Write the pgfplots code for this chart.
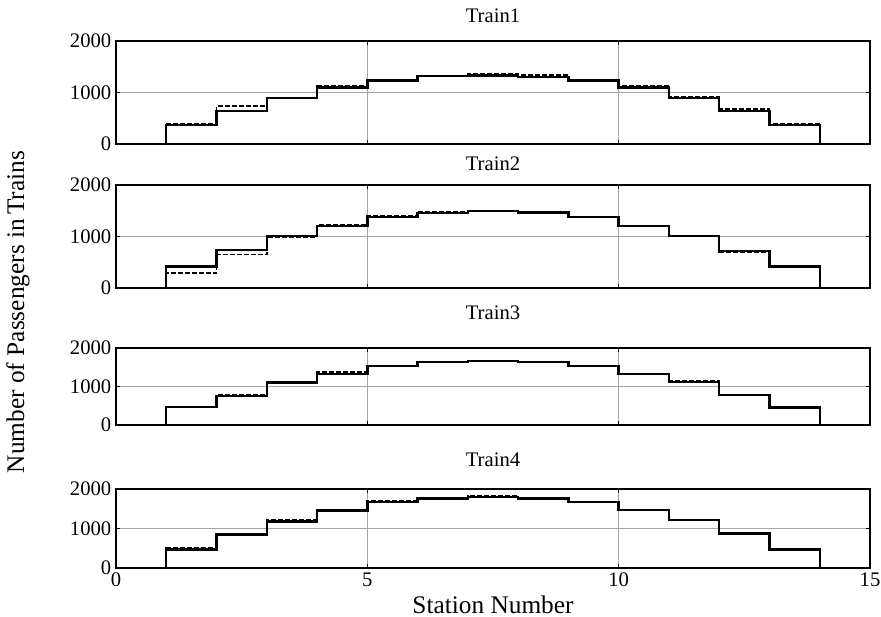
\documentclass[border=0pt]{standalone}
\usepackage{fontspec}
\setmainfont{Liberation Serif}
\usepackage{pgfplots}
\pgfplotsset{compat=1.18}
\begin{document}
\begin{tikzpicture}
\pgfplotsset{
  panel/.style={
    scale only axis, width=565.5pt,
    anchor=south west,
    xmin=0, xmax=15, ymin=0, ymax=2000,
    xtick={0,5,10,15}, ytick={0,1000,2000},
    grid=major, major grid style={line width=0.4pt, color=black!35},
    axis line style={line width=1pt, black},
    tick style={line width=0.8pt, black},
    major tick length=3pt,
    tick align=inside,
    tick label style={font=\fontsize{15.5}{18}\selectfont},
    /pgf/number format/assume math mode=true,
    /pgf/number format/1000 sep={},
    scaled y ticks=false,
    title style={font=\fontsize{15.5}{18}\selectfont, at={(0.5,1)}, anchor=base},
    clip=false,
    const plot,
  },
  sol/.style={black, line width=1.8pt, no marks, const plot},
  das/.style={black, line width=1.4pt, dash pattern=on 3.75pt off 1.5pt, no marks, const plot},
}
\path[use as bounding box] (0,0) rectangle (660.75pt,-462.75pt);
\node[rotate=90, font=\fontsize{19}{22}\selectfont] at (13.5pt,-234pt) {Number of Passengers in\,Trains};

\begin{axis}[panel, at={(87pt,-108pt)}, height=77.25pt, title={Train1}, title style={yshift=8.25pt}, xticklabels={}]
\addplot[das] coordinates {(0,0)(1,380)(2,735)(3,900)(4,1135)(5,1240)(6,1330)(7,1360)(8,1340)(9,1250)(10,1120)(11,915)(12,685)(13,380)(14,0)};
\addplot[sol] coordinates {(0,0)(1,368)(2,639)(3,890)(4,1097)(5,1232)(6,1316)(7,1329)(8,1303)(9,1232)(10,1097)(11,890)(12,639)(13,368)(14,0)};
\end{axis}

\begin{axis}[panel, at={(87pt,-216pt)}, height=77.25pt, title={Train2}, title style={yshift=5.25pt}, xticklabels={}]
\addplot[das] coordinates {(0,0)(1,289)(2,650)(3,985)(4,1228)(5,1390)(6,1479)(7,1498)(8,1460)(9,1370)(10,1196)(11,1003)(12,707)(13,405)(14,0)};
\addplot[sol] coordinates {(0,0)(1,418)(2,740)(3,1010)(4,1209)(5,1383)(6,1460)(7,1498)(8,1466)(9,1383)(10,1203)(11,1010)(12,720)(13,418)(14,0)};
\end{axis}

\begin{axis}[panel, at={(87pt,-318.75pt)}, height=57.75pt, title={Train3}, title style={yshift=15.75pt}, xticklabels={}]
\addplot[das] coordinates {(0,0)(1,474)(2,793)(3,1121)(4,1371)(5,1543)(6,1638)(7,1672)(8,1638)(9,1543)(10,1336)(11,1138)(12,793)(13,474)(14,0)};
\addplot[sol] coordinates {(0,0)(1,465)(2,759)(3,1103)(4,1319)(5,1526)(6,1629)(7,1664)(8,1629)(9,1526)(10,1319)(11,1112)(12,776)(13,457)(14,0)};
\end{axis}

\begin{axis}[panel, at={(87pt,-426pt)}, height=59.25pt, title={Train4}, title style={yshift=11.25pt},
  xlabel={Station Number}, xlabel style={at={(0.5,0)}, anchor=base, yshift=-33.75pt, font=\fontsize{19}{22}\selectfont}]
\addplot[das] coordinates {(0,0)(1,515)(2,833)(3,1210)(4,1476)(5,1691)(6,1777)(7,1837)(8,1777)(9,1674)(10,1476)(11,1219)(12,876)(13,489)(14,0)};
\addplot[sol] coordinates {(0,0)(1,472)(2,850)(3,1176)(4,1459)(5,1674)(6,1760)(7,1803)(8,1760)(9,1674)(10,1468)(11,1210)(12,876)(13,472)(14,0)};
\end{axis}
\end{tikzpicture}
\end{document}
